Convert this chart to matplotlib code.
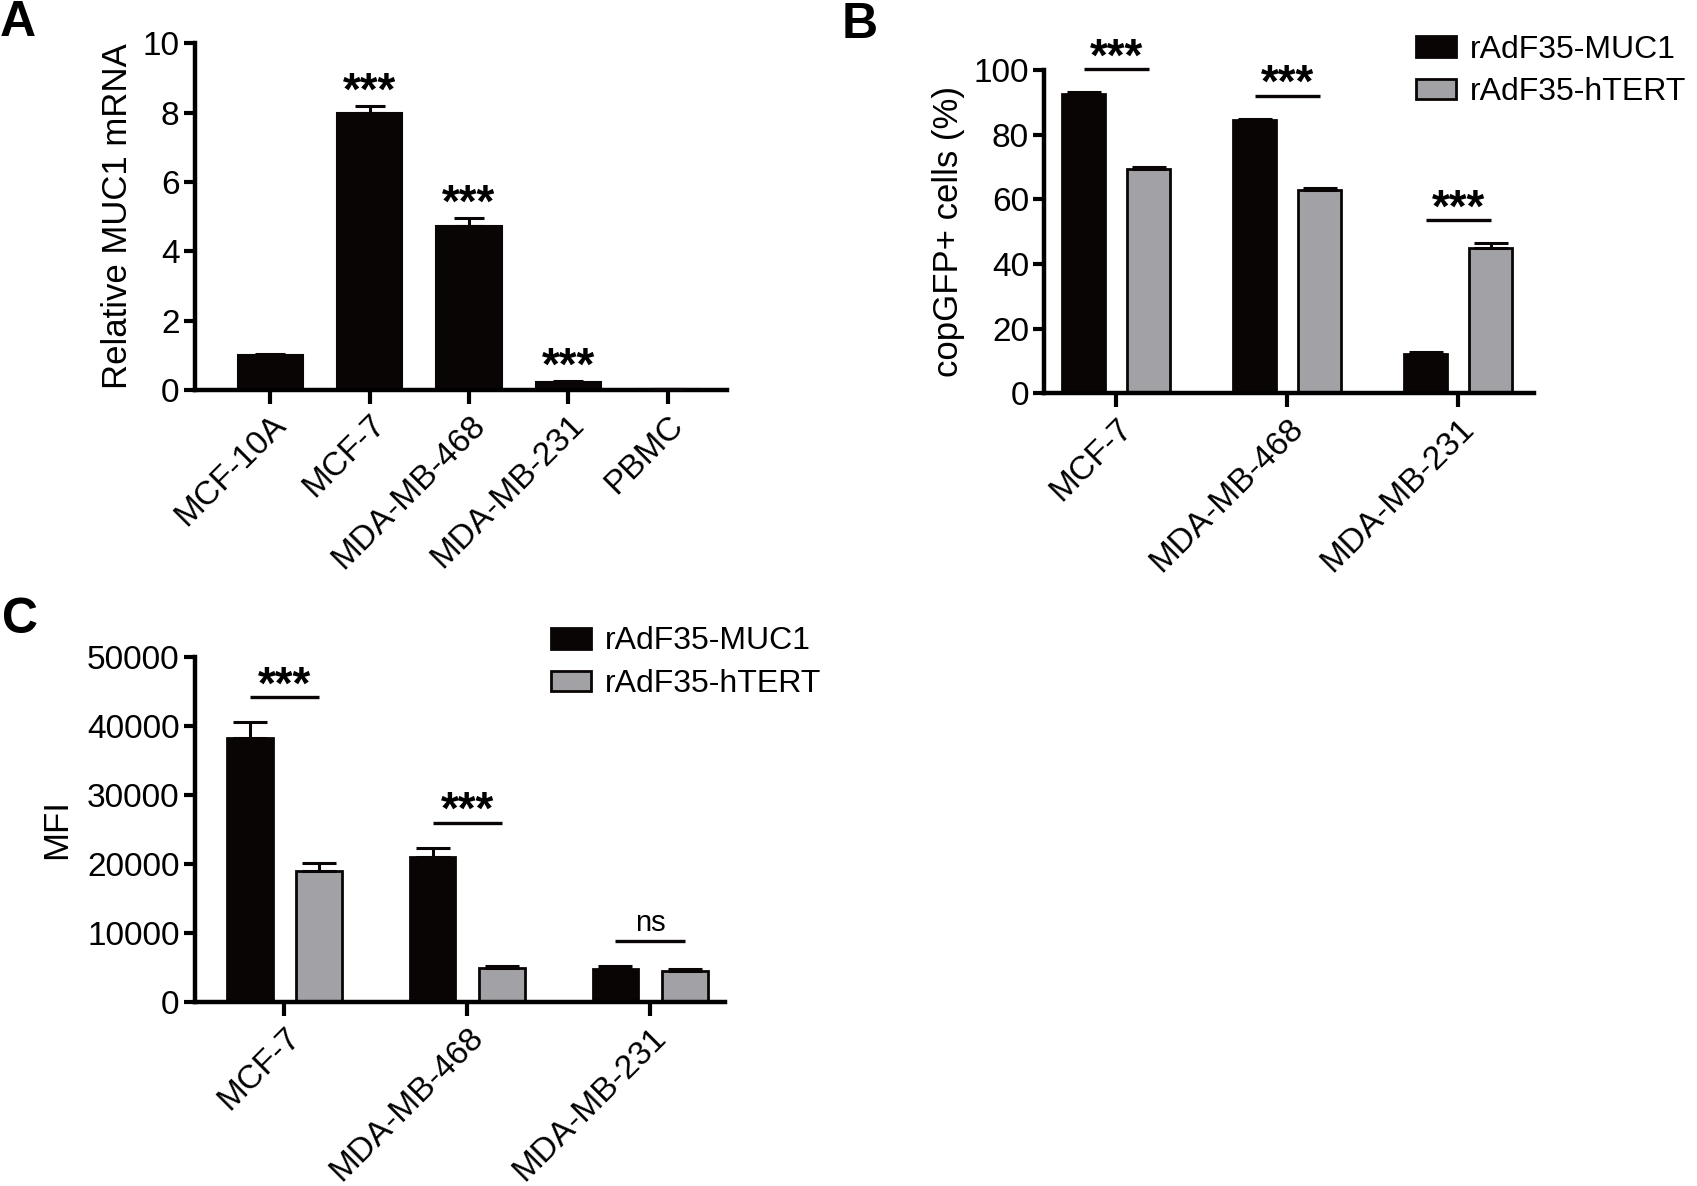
import matplotlib
matplotlib.use("Agg")
import matplotlib.pyplot as plt
import numpy as np

plt.rcParams['font.family'] = ['Liberation Sans', 'DejaVu Sans']

# ---------------- data ----------------
a_categories = ["MCF-10A", "MCF-7", "MDA-MB-468", "MDA-MB-231", "PBMC"]
a_values = [1.0, 8.0, 4.72, 0.22, 0.02]
a_errors = [0.03, 0.2, 0.24, 0.03, 0.0]
a_sig = ["", "***", "***", "***", ""]

b_categories = ["MCF-7", "MDA-MB-468", "MDA-MB-231"]
b_muc1 = [92.5, 84.6, 12.0]
b_muc1_err = [0.7, 0.3, 0.9]
b_htert = [69.5, 62.8, 45.0]
b_htert_err = [0.5, 0.8, 1.4]
b_sig = ["***", "***", "***"]

c_categories = ["MCF-7", "MDA-MB-468", "MDA-MB-231"]
c_muc1 = [38300, 21000, 4900]
c_muc1_err = [2300, 1400, 350]
c_htert = [19000, 5000, 4600]
c_htert_err = [1100, 250, 200]
c_sig = ["***", "***", "ns"]

series_names = ["rAdF35-MUC1", "rAdF35-hTERT"]
BLACK = "#0a0505"
GRAY = "#a2a2a6"

W, H = 1568.0, 1098.0  # reference layout units


def rect(x0, y0, x1, y1):
    return [x0 / W, 1 - y1 / H, (x1 - x0) / W, (y1 - y0) / H]


fig = plt.figure(figsize=(16.97, 11.86), dpi=100)

TICK_FS = 24
LABEL_FS = 25
STAR_FS = 33
LEG_FS = 23


def style(ax):
    for s in ["top", "right"]:
        ax.spines[s].set_visible(False)
    for s in ["left", "bottom"]:
        ax.spines[s].set_linewidth(3.2)
    ax.tick_params(axis="y", width=3, length=8, labelsize=TICK_FS, pad=3)
    ax.tick_params(axis="x", width=3, length=10, labelsize=TICK_FS, pad=4)


# ---------------- Panel A ----------------
axA = fig.add_axes(rect(180, 40, 672, 361))
xa = np.arange(len(a_categories))
axA.bar(xa, a_values, width=0.66, color=BLACK, edgecolor=BLACK, linewidth=1.5, zorder=2)
axA.errorbar(xa, a_values, yerr=[np.zeros(len(xa)), a_errors], fmt="none",
             ecolor=BLACK, elinewidth=2.2, capsize=11, capthick=2.2, zorder=3)
for x, v, e, s in zip(xa, a_values, a_errors, a_sig):
    if s:
        axA.annotate(s, (x, v + e), xytext=(0, 1), textcoords="offset points",
                     ha="center", va="baseline", fontsize=STAR_FS, annotation_clip=False,
                     fontweight="bold")
axA.set_xlim(-0.76, 4.6)
axA.set_ylim(0, 10)
axA.set_yticks([0, 2, 4, 6, 8, 10])
axA.set_xticks(xa)
axA.set_xticklabels(a_categories, rotation=45, ha="right", va="top", rotation_mode="anchor")
axA.set_ylabel("Relative MUC1 mRNA", fontsize=LABEL_FS, labelpad=6)
style(axA)


def grouped(ax, cats, s1, e1, s2, e2, sig, ymax):
    xg = np.arange(len(cats))
    off = 0.19
    w = 0.25
    ax.bar(xg - off, s1, width=w, color=BLACK, edgecolor=BLACK, linewidth=2, zorder=2,
           label=series_names[0])
    ax.bar(xg + off, s2, width=w, color=GRAY, edgecolor=BLACK, linewidth=2, zorder=2,
           label=series_names[1])
    ax.errorbar(xg - off, s1, yerr=[np.zeros(len(xg)), e1], fmt="none", ecolor=BLACK,
                elinewidth=2.2, capsize=12, capthick=2.2, zorder=3)
    ax.errorbar(xg + off, s2, yerr=[np.zeros(len(xg)), e2], fmt="none", ecolor=BLACK,
                elinewidth=2.2, capsize=12, capthick=2.2, zorder=3)
    for i, s in enumerate(sig):
        top = max(s1[i] + e1[i], s2[i] + e2[i]) + 0.072 * ymax
        ax.plot([xg[i] - off, xg[i] + off], [top, top], color=BLACK, lw=2.4,
                solid_capstyle="butt", clip_on=False, zorder=3)
        if s == "ns":
            ax.annotate(s, (xg[i], top), xytext=(0, 7), textcoords="offset points",
                        ha="center", va="baseline", fontsize=21, annotation_clip=False)
        else:
            ax.annotate(s, (xg[i], top), xytext=(0, -1), textcoords="offset points",
                        ha="center", va="baseline", fontsize=STAR_FS, annotation_clip=False,
                        fontweight="bold")
    ax.set_xticks(xg)
    ax.set_xticklabels(cats, rotation=45, ha="right", va="top", rotation_mode="anchor")
    return xg


# ---------------- Panel B ----------------
axB = fig.add_axes(rect(965, 65, 1417, 364))
grouped(axB, b_categories, b_muc1, b_muc1_err, b_htert, b_htert_err, b_sig, 100)
axB.set_xlim(-0.42, 2.44)
axB.set_ylim(0, 100)
axB.set_yticks([0, 20, 40, 60, 80, 100])
axB.set_ylabel("copGFP+ cells (%)", fontsize=LABEL_FS, labelpad=6)
style(axB)
axB.legend(loc="upper left", bbox_to_anchor=(1308 / W, 1 - 32 / H), bbox_transform=fig.transFigure,
           frameon=False, fontsize=LEG_FS, handlelength=1.25, handleheight=0.62,
           handletextpad=0.45, labelspacing=0.4, borderpad=0, borderaxespad=0)

# ---------------- Panel C ----------------
axC = fig.add_axes(rect(180, 608, 670, 928))
grouped(axC, c_categories, c_muc1, c_muc1_err, c_htert, c_htert_err, c_sig, 50000)
axC.set_xlim(-0.49, 2.41)
axC.set_ylim(0, 50000)
axC.set_yticks([0, 10000, 20000, 30000, 40000, 50000])
axC.set_ylabel("MFI", fontsize=LABEL_FS, labelpad=10)
style(axC)
axC.legend(loc="upper left", bbox_to_anchor=(509 / W, 1 - 580 / H), bbox_transform=fig.transFigure,
           frameon=False, fontsize=LEG_FS, handlelength=1.25, handleheight=0.62,
           handletextpad=0.45, labelspacing=0.4, borderpad=0, borderaxespad=0)

# ---------------- panel letters ----------------
for letter, (x, y) in {"A": (0, 0), "B": (778, 2), "C": (2, 553)}.items():
    fig.text(x / W, 1 - y / H, letter, fontsize=36, fontweight="bold", ha="left", va="top")

fig.savefig("out.png", dpi=100)
